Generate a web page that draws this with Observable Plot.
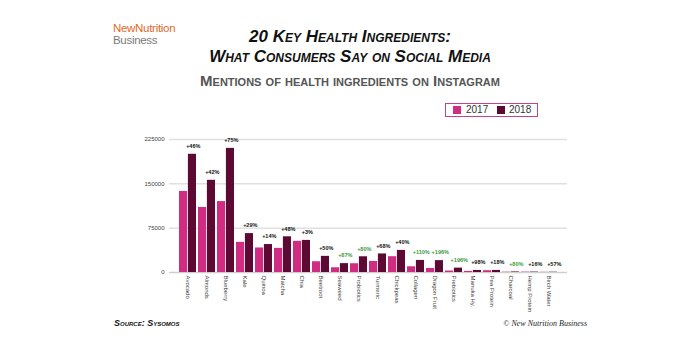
<!DOCTYPE html>
<html><head><meta charset="utf-8">
<script src="https://cdn.jsdelivr.net/npm/d3@7"></script>
<script src="https://cdn.jsdelivr.net/npm/@observablehq/plot@0.6"></script>
<style>
body{margin:0;background:#fff;}
#wrap{position:relative;width:700px;height:350px;overflow:hidden;font-family:"Liberation Sans",Arial,sans-serif;}
#chart{position:absolute;left:0;top:0;}
.abs{position:absolute;white-space:nowrap;}
.logo{left:113px;font-size:11.5px;line-height:11px;letter-spacing:-0.3px;}
.title{left:0;width:700px;text-align:center;font-weight:bold;font-style:italic;font-variant:small-caps;color:#111;font-size:17px;line-height:17px;}
.sub{left:0;width:700px;text-align:center;font-weight:bold;font-variant:small-caps;color:#555;font-size:15px;line-height:15px;}
#legend{left:445px;top:103px;width:91px;height:12px;border:1.5px solid #c8408a;font-size:10px;line-height:12px;color:#333;}
#legend span.sw{position:absolute;top:2px;width:8px;height:8px;}
#legend span.tx{position:absolute;top:0px;}
.src{left:114px;top:318px;font-size:9px;font-weight:bold;font-style:italic;font-variant:small-caps;color:#111;}
.copy{right:113px;top:319px;font-size:8px;font-style:italic;font-family:"Liberation Serif",serif;color:#222;}
</style></head><body>
<div id="wrap">
  <div id="chart"></div>
  <div class="abs logo" style="top:23px;color:#e0692a;">NewNutrition</div>
  <div class="abs logo" style="top:35px;color:#7a7a7a;">Business</div>
  <div class="abs title" style="top:28px;">20 Key Health Ingredients:</div>
  <div class="abs title" style="top:48px;">What Consumers Say on Social Media</div>
  <div class="abs sub" style="top:73px;">Mentions of health ingredients on Instagram</div>
  <div class="abs" id="legend"></div>
  <div class="abs src">Source: Sysomos</div>
  <div class="abs copy">© New Nutrition Business</div>
</div>
<script>
const ingredients = ["Avocado","Almonds","Blueberry","Kale","Quinoa","Matcha","Chia","Beetroot","Seaweed","Probiotics","Turmeric","Chickpeas","Collagen","Dragon Fruit","Prebiotics","Manuka Hy.","Pea Protein","Charcoal","Hemp Protein","Birch Water"];
const values2017 = [137000,110000,120000,51000,41500,40800,52700,18200,8000,14800,18700,26700,9700,6800,2500,1800,3000,500,600,300];
const values2018 = [200000,156000,210000,65800,47300,60400,54300,27300,15000,26600,31400,37400,20400,20100,7400,3500,3500,900,700,470];
const changeLabels = ["+46%","+42%","+75%","+29%","+14%","+48%","+3%","+50%","+87%","+80%","+68%","+40%","+110%","+196%","+196%","+98%","+18%","+80%","+16%","+57%"];
const highlighted = ["Seaweed","Probiotics","Collagen","Dragon Fruit","Prebiotics","Charcoal"];
const years = ["2017","2018"];
const yTicks = [0,75000,150000,225000];

const c2017 = "#cf2c82", c2018 = "#5c0a34";
const data = ingredients.map((name,i)=>({name, v2017:values2017[i], v2018:values2018[i], label:changeLabels[i], hi: highlighted.includes(name)}));

function make(bw){
  return Plot.plot({
    width:700, height:350,
    marginLeft:169, marginRight:133, marginTop:139, marginBottom:78,
    style:{fontFamily:"Liberation Sans, Arial, sans-serif", fontSize:"6px", color:"#444", background:"transparent"},
    x:{domain:ingredients, paddingInner:0.12, paddingOuter:0.06, label:null, tickSize:0, tickRotate:90, tickPadding:3},
    y:{domain:[0,225000], ticks:yTicks, tickFormat:d=>String(d), label:null, tickSize:0, tickPadding:5},
    marks:[
      Plot.ruleY(yTicks.slice(1),{stroke:"#e0e0e0", strokeWidth:1.5}),
      Plot.ruleY([0],{stroke:"#cfcfcf", strokeWidth:1.5}),
      Plot.barY(data,{x:"name", y:"v2017", fill:c2017, insetRight:bw/2+0.4}),
      Plot.barY(data,{x:"name", y:"v2018", fill:c2018, insetLeft:bw/2+0.4}),
      Plot.text(data.filter(d=>!d.hi),{x:"name", y:"v2018", text:"label", dx:bw/4+1, dy:-8, fill:"#111", fontSize:5.5, fontWeight:"bold"}),
      Plot.text(data.filter(d=>d.hi),{x:"name", y:"v2018", text:"label", dx:bw/4+1, dy:-8, fill:"#3c9a3c", fontSize:5.5, fontWeight:"bold"})
    ]
  });
}
let p = make(0);
const bw = p.scale("x").bandwidth;
p = make(bw);
document.getElementById("chart").appendChild(p);

const lg = document.getElementById("legend");
const cols = [c2017, c2018];
const swX = [7, 51], txX = [20, 63];
years.forEach((y,i)=>{
  const s = document.createElement("span"); s.className="sw"; s.style.left=swX[i]+"px"; s.style.background=cols[i]; lg.appendChild(s);
  const t = document.createElement("span"); t.className="tx"; t.style.left=txX[i]+"px"; t.textContent=y; lg.appendChild(t);
});
</script>
</body></html>
